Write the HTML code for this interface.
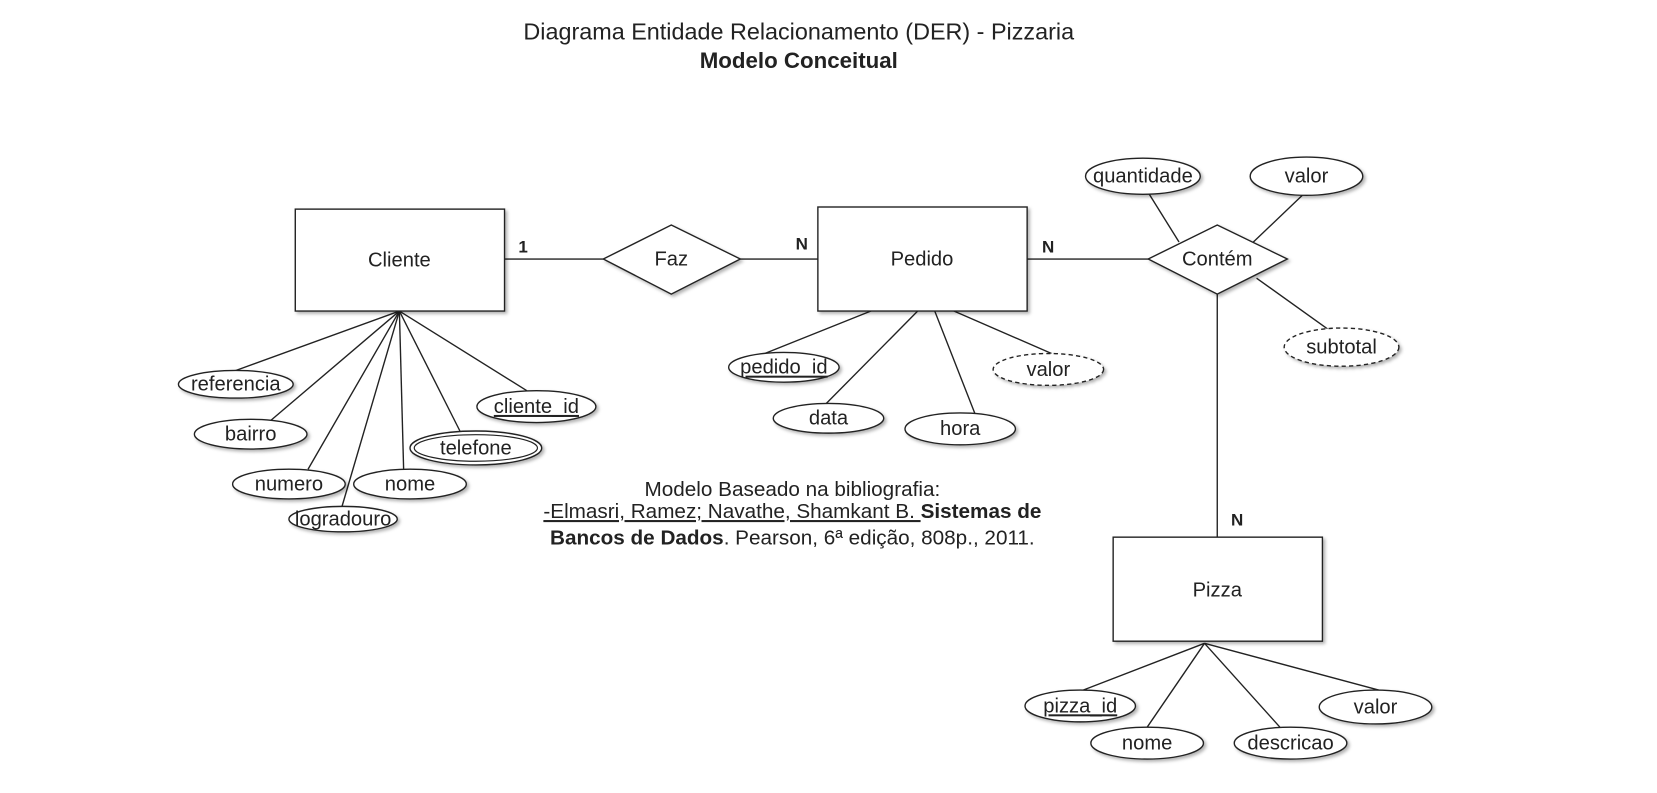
<!DOCTYPE html>
<html><head><meta charset="utf-8"><style>
html,body{margin:0;padding:0;background:#fff;}
svg{display:block;}
text{font-family:"Liberation Sans",Arial,sans-serif;fill:#222;}
</style></head><body>
<svg width="1657" height="793" viewBox="0 0 1560 747" preserveAspectRatio="none" xmlns="http://www.w3.org/2000/svg">
<defs>
<filter id="sh" x="-20%" y="-20%" width="150%" height="150%"><feDropShadow dx="2" dy="2" stdDeviation="1.5" flood-color="#000" flood-opacity="0.3"/></filter>
</defs>
<text x="752" y="37" font-size="22" text-anchor="middle" fill="#333">Diagrama Entidade Relacionamento (DER) - Pizzaria</text>
<text x="752" y="64" font-size="21" font-weight="bold" text-anchor="middle">Modelo Conceitual</text>

<g stroke="#222" stroke-width="1.3" fill="none">
<line x1="475" y1="244" x2="568" y2="244"/>
<line x1="697" y1="244" x2="770" y2="244"/>
<line x1="967" y1="244" x2="1081" y2="244"/>
<line x1="1146" y1="277" x2="1146" y2="506"/>
<line x1="376" y1="293" x2="222" y2="349"/>
<line x1="376" y1="293" x2="255" y2="396"/>
<line x1="376" y1="293" x2="290" y2="442"/>
<line x1="376" y1="293" x2="322" y2="477"/>
<line x1="376" y1="293" x2="380" y2="442"/>
<line x1="376" y1="293" x2="433" y2="406"/>
<line x1="376" y1="293" x2="496" y2="368"/>
<line x1="820" y1="293" x2="720" y2="333"/>
<line x1="864" y1="293" x2="778" y2="380"/>
<line x1="880" y1="293" x2="918" y2="390"/>
<line x1="898" y1="293" x2="990" y2="333"/>
<line x1="1082" y1="183" x2="1110" y2="228"/>
<line x1="1226" y1="184" x2="1180" y2="228"/>
<line x1="1183" y1="262" x2="1250" y2="310"/>
<line x1="1134" y1="606" x2="1020" y2="650"/>
<line x1="1134" y1="606" x2="1080" y2="685"/>
<line x1="1134" y1="606" x2="1205" y2="685"/>
<line x1="1134" y1="606" x2="1298" y2="650"/>
</g>

<g stroke="#222" stroke-width="1.3" fill="#fff" filter="url(#sh)">
<rect x="278" y="197" width="197" height="96"/>
<rect x="770" y="195" width="197" height="98"/>
<rect x="1048" y="506" width="197" height="98"/>
<polygon points="568,244 632,212 697,244 632,277"/>
<polygon points="1081,244 1146,212 1212,244 1146,277"/>
<ellipse cx="1076" cy="166" rx="54" ry="17"/>
<ellipse cx="1230" cy="166" rx="53" ry="18"/>
<ellipse cx="1263" cy="327" rx="54" ry="18" stroke-dasharray="4,3"/>
<ellipse cx="222" cy="362" rx="54" ry="13"/>
<ellipse cx="236" cy="409" rx="53" ry="14"/>
<ellipse cx="272" cy="456" rx="53" ry="14"/>
<ellipse cx="386" cy="456" rx="53" ry="14"/>
<ellipse cx="323" cy="489" rx="51" ry="12"/>
<ellipse cx="448" cy="422" rx="62" ry="16"/>
<ellipse cx="505" cy="383" rx="56" ry="15"/>
<ellipse cx="738" cy="346" rx="52" ry="14"/>
<ellipse cx="780" cy="394" rx="52" ry="14"/>
<ellipse cx="904" cy="404" rx="52" ry="15"/>
<ellipse cx="987" cy="348" rx="52" ry="15" stroke-dasharray="4,3"/>
<ellipse cx="1017" cy="665" rx="52" ry="15"/>
<ellipse cx="1080" cy="700" rx="53" ry="15"/>
<ellipse cx="1215" cy="700" rx="53" ry="15"/>
<ellipse cx="1295" cy="666" rx="53" ry="16"/>
</g>
<ellipse cx="448" cy="422" rx="58" ry="12.5" stroke="#222" stroke-width="1.1" fill="none"/>

<g font-size="19" text-anchor="middle">
<text x="376" y="251">Cliente</text>
<text x="632" y="250">Faz</text>
<text x="868" y="250">Pedido</text>
<text x="1146" y="250">Contém</text>
<text x="1146" y="562">Pizza</text>
<text x="1076" y="172">quantidade</text>
<text x="1230" y="172">valor</text>
<text x="1263" y="333">subtotal</text>
<text x="222" y="368">referencia</text>
<text x="236" y="415">bairro</text>
<text x="272" y="462">numero</text>
<text x="386" y="462">nome</text>
<text x="323" y="495">logradouro</text>
<text x="448" y="428">telefone</text>
<text x="505" y="389" text-decoration="underline">cliente_id</text>
<text x="738" y="352" text-decoration="underline">pedido_id</text>
<text x="780" y="400">data</text>
<text x="904" y="410">hora</text>
<text x="987" y="354">valor</text>
<text x="1017" y="671" text-decoration="underline">pizza_id</text>
<text x="1080" y="706">nome</text>
<text x="1215" y="706">descricao</text>
<text x="1295" y="672">valor</text>
</g>
<g font-size="16" font-weight="bold">
<text x="488" y="238">1</text>
<text x="749" y="235">N</text>
<text x="981" y="238">N</text>
<text x="1159" y="495">N</text>
</g>
<g font-size="19.5" text-anchor="middle" fill="#333">
<text x="746" y="467">Modelo Baseado na bibliografia:</text>
<text x="746" y="488"><tspan text-decoration="underline">-Elmasri, Ramez; Navathe, Shamkant B. </tspan><tspan font-weight="bold">Sistemas de</tspan></text>
<text x="746" y="513"><tspan font-weight="bold">Bancos de Dados</tspan>. Pearson, 6ª edição, 808p., 2011.</text>
</g>
</svg>
</body></html>
